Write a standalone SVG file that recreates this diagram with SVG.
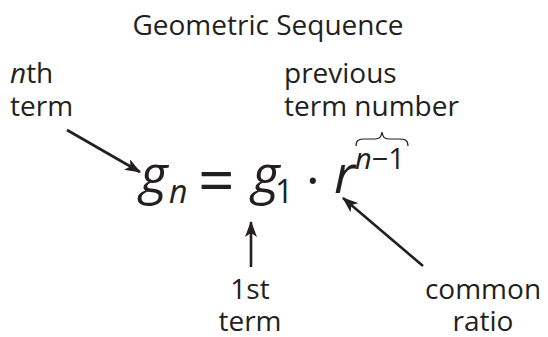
<svg xmlns="http://www.w3.org/2000/svg" width="548" height="337" viewBox="0 0 548 337">
<defs>
<style>
text{font-family:"Open Sans","Noto Sans",sans-serif;fill:#231f20}
.lbl{font-size:28px}
.it{font-style:italic}
.conn line{stroke:#231f20;stroke-width:2.6}
</style>
<marker id="ah" viewBox="0 0 16 12" refX="15" refY="6" markerWidth="16" markerHeight="12" markerUnits="userSpaceOnUse" orient="auto">
<path d="M0,0 L16,6 L0,12 L4,6 Z" fill="#231f20"/>
</marker>
</defs>
<rect width="548" height="337" fill="#fff"/>
<g id="title"><text class="lbl" x="268" y="35" text-anchor="middle">Geometric Sequence</text></g>
<g id="nth-term"><text class="lbl" x="10" y="83"><tspan class="it">n</tspan>th</text><text class="lbl" x="10" y="116">term</text></g>
<g id="prev-term"><text class="lbl" x="284" y="83">previous</text><text class="lbl" x="284" y="116">term number</text></g>
<g id="formula">
<text class="it" x="140" y="193" font-size="53">g</text>
<text class="it" x="169" y="203" font-size="32">n</text>
<text x="198" y="203" font-size="64">=</text>
<text class="it" x="252" y="193" font-size="53">g</text>
<text x="275" y="203" font-size="32">1</text>
<text x="306" y="199" font-size="52">·</text>
<text class="it" x="334" y="193" font-size="53">r</text>
<text x="355" y="169" font-size="29"><tspan class="it">n</tspan>−1</text>
<path d="M356,146 C356,140 359,139 365,139 L375,139 C380,139 381,137 382,132 C383,137 384,139 389,139 L399,139 C405,139 408,140 408,146" fill="none" stroke="#231f20" stroke-width="1.2"/>
</g>
<g id="first-term"><text class="lbl" x="250" y="299" text-anchor="middle">1st</text><text class="lbl" x="250" y="331" text-anchor="middle">term</text></g>
<g id="common-ratio"><text class="lbl" x="483" y="299" text-anchor="middle">common</text><text class="lbl" x="483" y="331" text-anchor="middle">ratio</text></g>
<g id="connectors" class="conn">
<line x1="67" y1="130" x2="140" y2="172" marker-end="url(#ah)"/>
<line x1="251" y1="267" x2="251" y2="222" marker-end="url(#ah)"/>
<line x1="423" y1="266" x2="343" y2="198" marker-end="url(#ah)"/>
</g>
</svg>
